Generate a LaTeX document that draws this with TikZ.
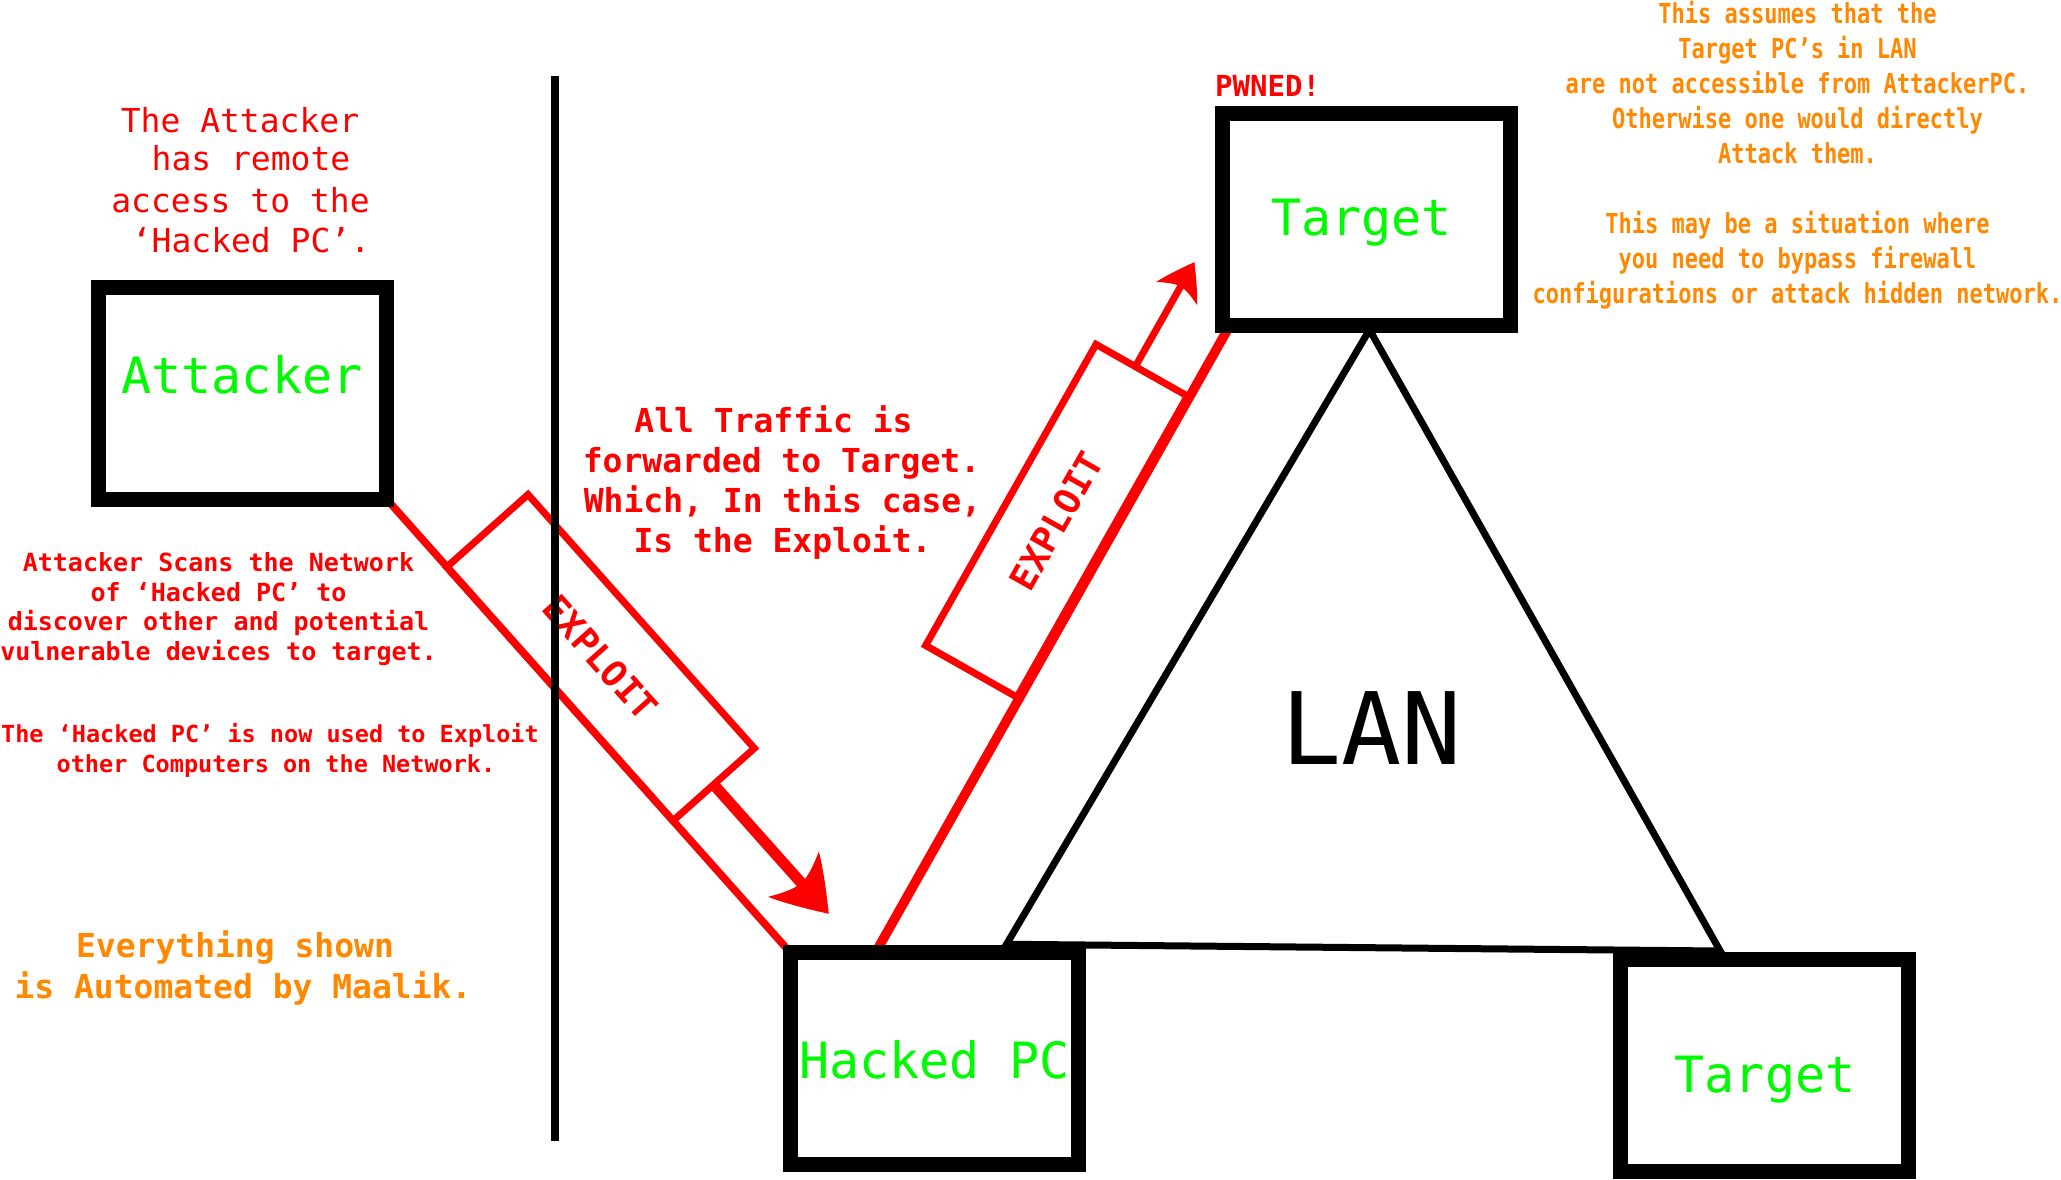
\documentclass[tikz,border=0pt]{standalone}
\usepackage{fontspec}
\newfontfamily\dmono{DejaVu Sans Mono}
\newfontfamily\dcond{DejaVu Sans Mono}[FakeStretch=0.8]
\usetikzlibrary{calc}
\definecolor{pcred}{RGB}{255,0,0}
\definecolor{pcgreen}{RGB}{0,250,0}
\definecolor{pcorange}{RGB}{255,136,0}
\newcommand\setfs[1]{\fontsize{#1pt}{#1pt}\selectfont}
\pgfdeclarelayer{bg}
\pgfsetlayers{bg,main}
% arrow head: #1 tip coordinate, #2 canvas angle, #3 length, #4 half width
\newcommand\inkhead[4]{%
  \fill[pcred, shift={(#1)}, rotate=#2, x=1pt, y=1pt]
    (0,0) .. controls (-0.4*#3, 0.45*#4) and (-0.75*#3, 0.8*#4) .. (-#3, #4)
    .. controls (-0.82*#3, 0.45*#4) and (-0.78*#3, 0.2*#4) .. (-0.78*#3, 0)
    .. controls (-0.78*#3, -0.2*#4) and (-0.82*#3, -0.45*#4) .. (-#3, -#4)
    .. controls (-0.75*#3, -0.8*#4) and (-0.4*#3, -0.45*#4) .. (0,0) -- cycle;}
\begin{document}
\begin{tikzpicture}[x=1pt, y=-1pt,
  pcbox/.style={draw=black, fill=white, line width=15pt, minimum width=288pt,
    minimum height=212pt, inner sep=0pt, outer sep=0pt},
  exbox/.style={draw=pcred, line width=7pt, inner sep=0pt, outer sep=0pt,
    text=pcred, font=\dmono\bfseries\setfs{36}},
  pclbl/.style={text=pcgreen, font=\dmono\setfs{50}, inner sep=0pt, anchor=base},
  atktxt/.style={text=pcred, font=\dmono\setfs{33}, inner sep=0pt, anchor=base},
  scantxt/.style={text=pcred, font=\dmono\bfseries\setfs{25}, inner sep=0pt, anchor=base},
  usetxt/.style={text=pcred, font=\dmono\bfseries\setfs{23.5}, inner sep=0pt, anchor=base},
  autotxt/.style={text=pcorange, font=\dmono\bfseries\setfs{33}, inner sep=0pt, anchor=base},
  fwdtxt/.style={text=pcred, font=\dmono\bfseries\setfs{33}, inner sep=0pt, anchor=base},
  notetxt/.style={text=pcorange, font=\dcond\bfseries\setfs{27.5}, inner sep=0pt, anchor=base},
  pwntxt/.style={text=pcred, font=\dmono\bfseries\setfs{29}, inner sep=0pt, anchor=base west},
  lantxt/.style={text=black, font=\dmono\setfs{100}, inner sep=0pt, anchor=base},
  redline/.style={draw=pcred},
  lanline/.style={draw=black, line width=7pt, line join=miter}
]
\useasboundingbox (0,0) rectangle (2061,1180);

% computer boxes
\node[pcbox] (att)  at (242.5,393) {};
\node[pcbox] (hack) at (934.5,1058.75) {};
\node[pcbox] (t1)   at (1366.5,219.75) {};
\node[pcbox] (t2)   at (1764.25,1065.5) {};

% exploit boxes
\node[exbox, rotate=-48.27, minimum width=340pt, minimum height=109pt] (ex1) at (600.5,657.7) {EXPLOIT};
\node[exbox, rotate=60.5, minimum width=346pt, minimum height=105pt] (ex2) at (1056.5,520.75) {EXPLOIT};

% background lines
\begin{pgfonlayer}{bg}
  \fill[white] (0,0) rectangle (2061,1180);
  \draw[redline, line width=7.5pt] (att.south east) -- (hack.north west);
  \coordinate (l2s) at ($(hack.north west)!0.295!(hack.north east)$);
  \coordinate (l2e) at ($(t1.south west)!0.025!(t1.south east)$);
  \draw[redline, line width=9.5pt] (l2s) -- (l2e);
  \coordinate (lanA) at ($(t1.south)+(3,4)$);
  \coordinate (lanL) at ($(hack.north west)!0.75!(hack.north east)+(0,-8.5)$);
  \coordinate (lanR) at ($(t2.north west)!0.347!(t2.north east)+(0,-8.5)$);
  \draw[lanline] (lanA) -- (lanL) -- (lanR) -- cycle;
\end{pgfonlayer}

% exploit arrows
\coordinate (a1t) at ($(ex1.east)+(115.1,129.2)$);
\draw[redline, line width=11pt, shorten >=35pt] (ex1.east) -- (a1t);
\inkhead{a1t}{-48.27}{53}{34}
\coordinate (a2s) at ($(ex2.north east)!0.43!(ex2.south east)$);
\coordinate (a2t) at ($(a2s)+(59.1,-104.4)$);
\draw[redline, line width=7pt, shorten >=22pt] (a2s) -- (a2t);
\inkhead{a2t}{60.5}{36}{23.5}

% labels in boxes
\node[pclbl] (attl)  at (242,393) {Attacker};
\node[pclbl] (hackl) at (934.5,1078) {Hacked PC};
\node[pclbl] (t1l)   at (1361.5,235) {Target};
\node[pclbl] (t2l)   at (1765,1092.7) {Target};
\node[lantxt] (lanl) at (1371.5,764) {LAN};
\node[pwntxt] (pwn)  at (1215,97) {PWNED!};

% attacker note
\node[atktxt] (a1) at (240,132) {The Attacker};
\node[atktxt] (a2) at (251,171) {has remote};
\node[atktxt] (a3) at (240.5,212) {access to the};
\node[atktxt] (a4) at (251,252) {‘Hacked PC’.};

% scan note
\node[scantxt] (s1) at (218.5,571) {Attacker Scans the Network};
\node[scantxt] (s2) at (218.5,601) {of ‘Hacked PC’ to};
\node[scantxt] (s3) at (218.5,630) {discover other and potential};
\node[scantxt] (s4) at (218.5,660) {vulnerable devices to target.};

% use note
\node[usetxt] (u1) at (270,742) {The ‘Hacked PC’ is now used to Exploit};
\node[usetxt] (u2) at (276,772) {other Computers on the Network.};

% automation note
\node[autotxt] (m1) at (235,957) {Everything shown};
\node[autotxt] (m2) at (243,998) {is Automated by Maalik.};

% traffic note
\node[fwdtxt] (f1) at (773.5,432) {All Traffic is};
\node[fwdtxt] (f2) at (781.5,472) {forwarded to Target.};
\node[fwdtxt] (f3) at (782.5,512) {Which, In this case,};
\node[fwdtxt] (f4) at (782.5,552) {Is the Exploit.};

% top right note
\node[notetxt] (n1) at (1797.5,23.3) {This assumes that the};
\node[notetxt] (n2) at (1797.5,58.3) {Target PC’s in LAN};
\node[notetxt] (n3) at (1797.5,93.3) {are not accessible from AttackerPC.};
\node[notetxt] (n4) at (1797.5,128.3) {Otherwise one would directly};
\node[notetxt] (n5) at (1797.5,163.3) {Attack them.};
\node[notetxt] (n6) at (1797.5,233.3) {This may be a situation where};
\node[notetxt] (n7) at (1797.5,268.3) {you need to bypass firewall};
\node[notetxt] (n8) at (1797.5,303.3) {configurations or attack hidden network.};

% separator
\coordinate (sepT) at (555,76);
\coordinate (sepB) at (555,1141);
\draw[line width=8pt] (sepT) -- (sepB);
\end{tikzpicture}
\end{document}
